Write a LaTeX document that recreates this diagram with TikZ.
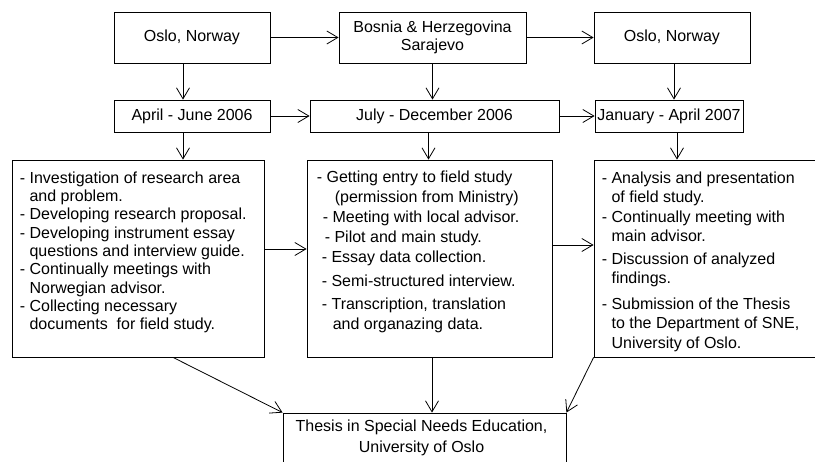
\documentclass[tikz,border=0pt]{standalone}
\usepackage{fontspec}
\setmainfont{Liberation Sans}
\usetikzlibrary{arrows.meta,positioning,calc}
\newcommand{\boxfont}{\fontsize{16}{18.5}\selectfont}
\newcommand{\cont}{\hphantom{-\ }}
\tikzset{
  stagebox/.style={draw, line width=0.8pt, inner sep=0pt, align=center},
  flow/.style={line width=0.8pt, -{Straight Barb[length=11pt,width=13pt,line width=0.8pt]}},
  worklist/.style={inner sep=0pt, align=left},
}

\begin{document}
\begin{tikzpicture}[x=1pt, y=-1pt, font=\boxfont]
    \useasboundingbox (0,0) rectangle (815,462);
    % places
    \node[stagebox, minimum width=156pt, minimum height=51pt] (osloA) at (192,37.5) {Oslo, Norway};
    \node[stagebox, minimum width=187pt, minimum height=51pt] (bosnia) at (432.5,37.5) {Bosnia \& Herzegovina\\Sarajevo};
    \node[stagebox, minimum width=156pt, minimum height=51pt] (osloB) at (672,37.5) {Oslo, Norway};
    % periods
    \node[stagebox, minimum width=156pt, minimum height=32pt] (april) at (192,116) {April - June 2006};
    \node[stagebox, minimum width=249pt, minimum height=32pt] (july) at (434.5,116) {July - December 2006};
    \node[stagebox, minimum width=148pt, minimum height=32pt] (january) at (669,116) {January - April 2007};
    % work in each period
    \node[stagebox, minimum width=252pt, minimum height=197pt] (workA) at (138,258.5) {};
    \node[stagebox, minimum width=245pt, minimum height=197pt] (workB) at (429.5,258.5) {};
    \node[stagebox, minimum width=240pt, minimum height=197pt] (workC) at (714,258.5) {};
    \node[worklist, below right=12pt and 8pt of workA.north west, font=\fontsize{16}{18.3}\selectfont] (listA) {%
      - Investigation of research area\\
      \cont and problem.\\
      - Developing research proposal.\\
      - Developing instrument essay\\
      \cont questions and interview guide.\\
      - Continually meetings with\\
      \cont Norwegian advisor.\\
      - Collecting necessary\\
      \cont documents\ \ for field study.};
    \node[worklist, below right=11pt and 10pt of workB.north west, font=\fontsize{16}{20}\selectfont] (listB) {%
      - Getting entry to field study\\
      \hspace*{18pt}(permission from Ministry)\\
      \hspace*{6pt}- Meeting with local advisor.\\
      \hspace*{8pt}- Pilot and main study.\\
      \hspace*{5pt}- Essay data collection.\\[4pt]
      \hspace*{5pt}- Semi-structured interview.\\[3pt]
      \hspace*{5pt}- Transcription, translation\\
      \hspace*{16pt}and organazing data.};
    \node[worklist, below right=12pt and 8pt of workC.north west, font=\fontsize{16}{19.5}\selectfont] (listC) {%
      - Analysis and presentation\\
      \cont of field study.\\
      - Continually meeting with\\
      \cont main advisor.\\[3pt]
      - Discussion of analyzed\\
      \cont findings.\\[6pt]
      - Submission of the Thesis\\
      \cont to the Department of SNE,\\
      \cont University of Oslo.};
    % result
    \node[stagebox, minimum width=283pt, minimum height=90pt] (thesis) at (424.5,458) {};
    \node[below=7.5pt of thesis.north, xshift=-3pt, inner sep=0pt, align=center, font=\fontsize{16}{21}\selectfont] (thesistext) {Thesis in Special Needs Education,\\University of Oslo};
    % connectors
    \draw[flow] (osloA) -- (bosnia);
    \draw[flow] (bosnia) -- (osloB);
    \draw[flow] (april) -- (july);
    \draw[flow] (july) -- (january);
    \draw[flow] ([xshift=-9pt]osloA.south) -- ([xshift=-9pt]april.north);
    \draw[flow] (bosnia.south) -- (bosnia.south |- july.north);
    \draw[flow] ([xshift=2pt]osloB.south) -- ([xshift=2pt]osloB.south |- january.north);
    \draw[flow] ([xshift=-9pt]april.south) -- ([xshift=-9pt]april.south |- workA.north);
    \draw[flow] ([xshift=-6pt]july.south) -- ([xshift=-6pt]july.south |- workB.north);
    \draw[flow] ([xshift=8pt]january.south) -- ([xshift=8pt]january.south |- workC.north);
    \draw[flow] ([yshift=9.5pt]workA.east) -- ([yshift=9.5pt]workA.east -| workB.west);
    \draw[flow] ([yshift=13.5pt]workB.east) -- ([yshift=13.5pt]workB.east -| workC.west);
    \draw[flow] ([xshift=35pt]workA.south) -- (thesis.north west);
    \draw[flow] ([xshift=2.5pt]workB.south) -- ([xshift=2.5pt]workB.south |- thesis.north);
    \draw[flow] (workC.south west) -- (thesis.north east);
\end{tikzpicture}
\end{document}
